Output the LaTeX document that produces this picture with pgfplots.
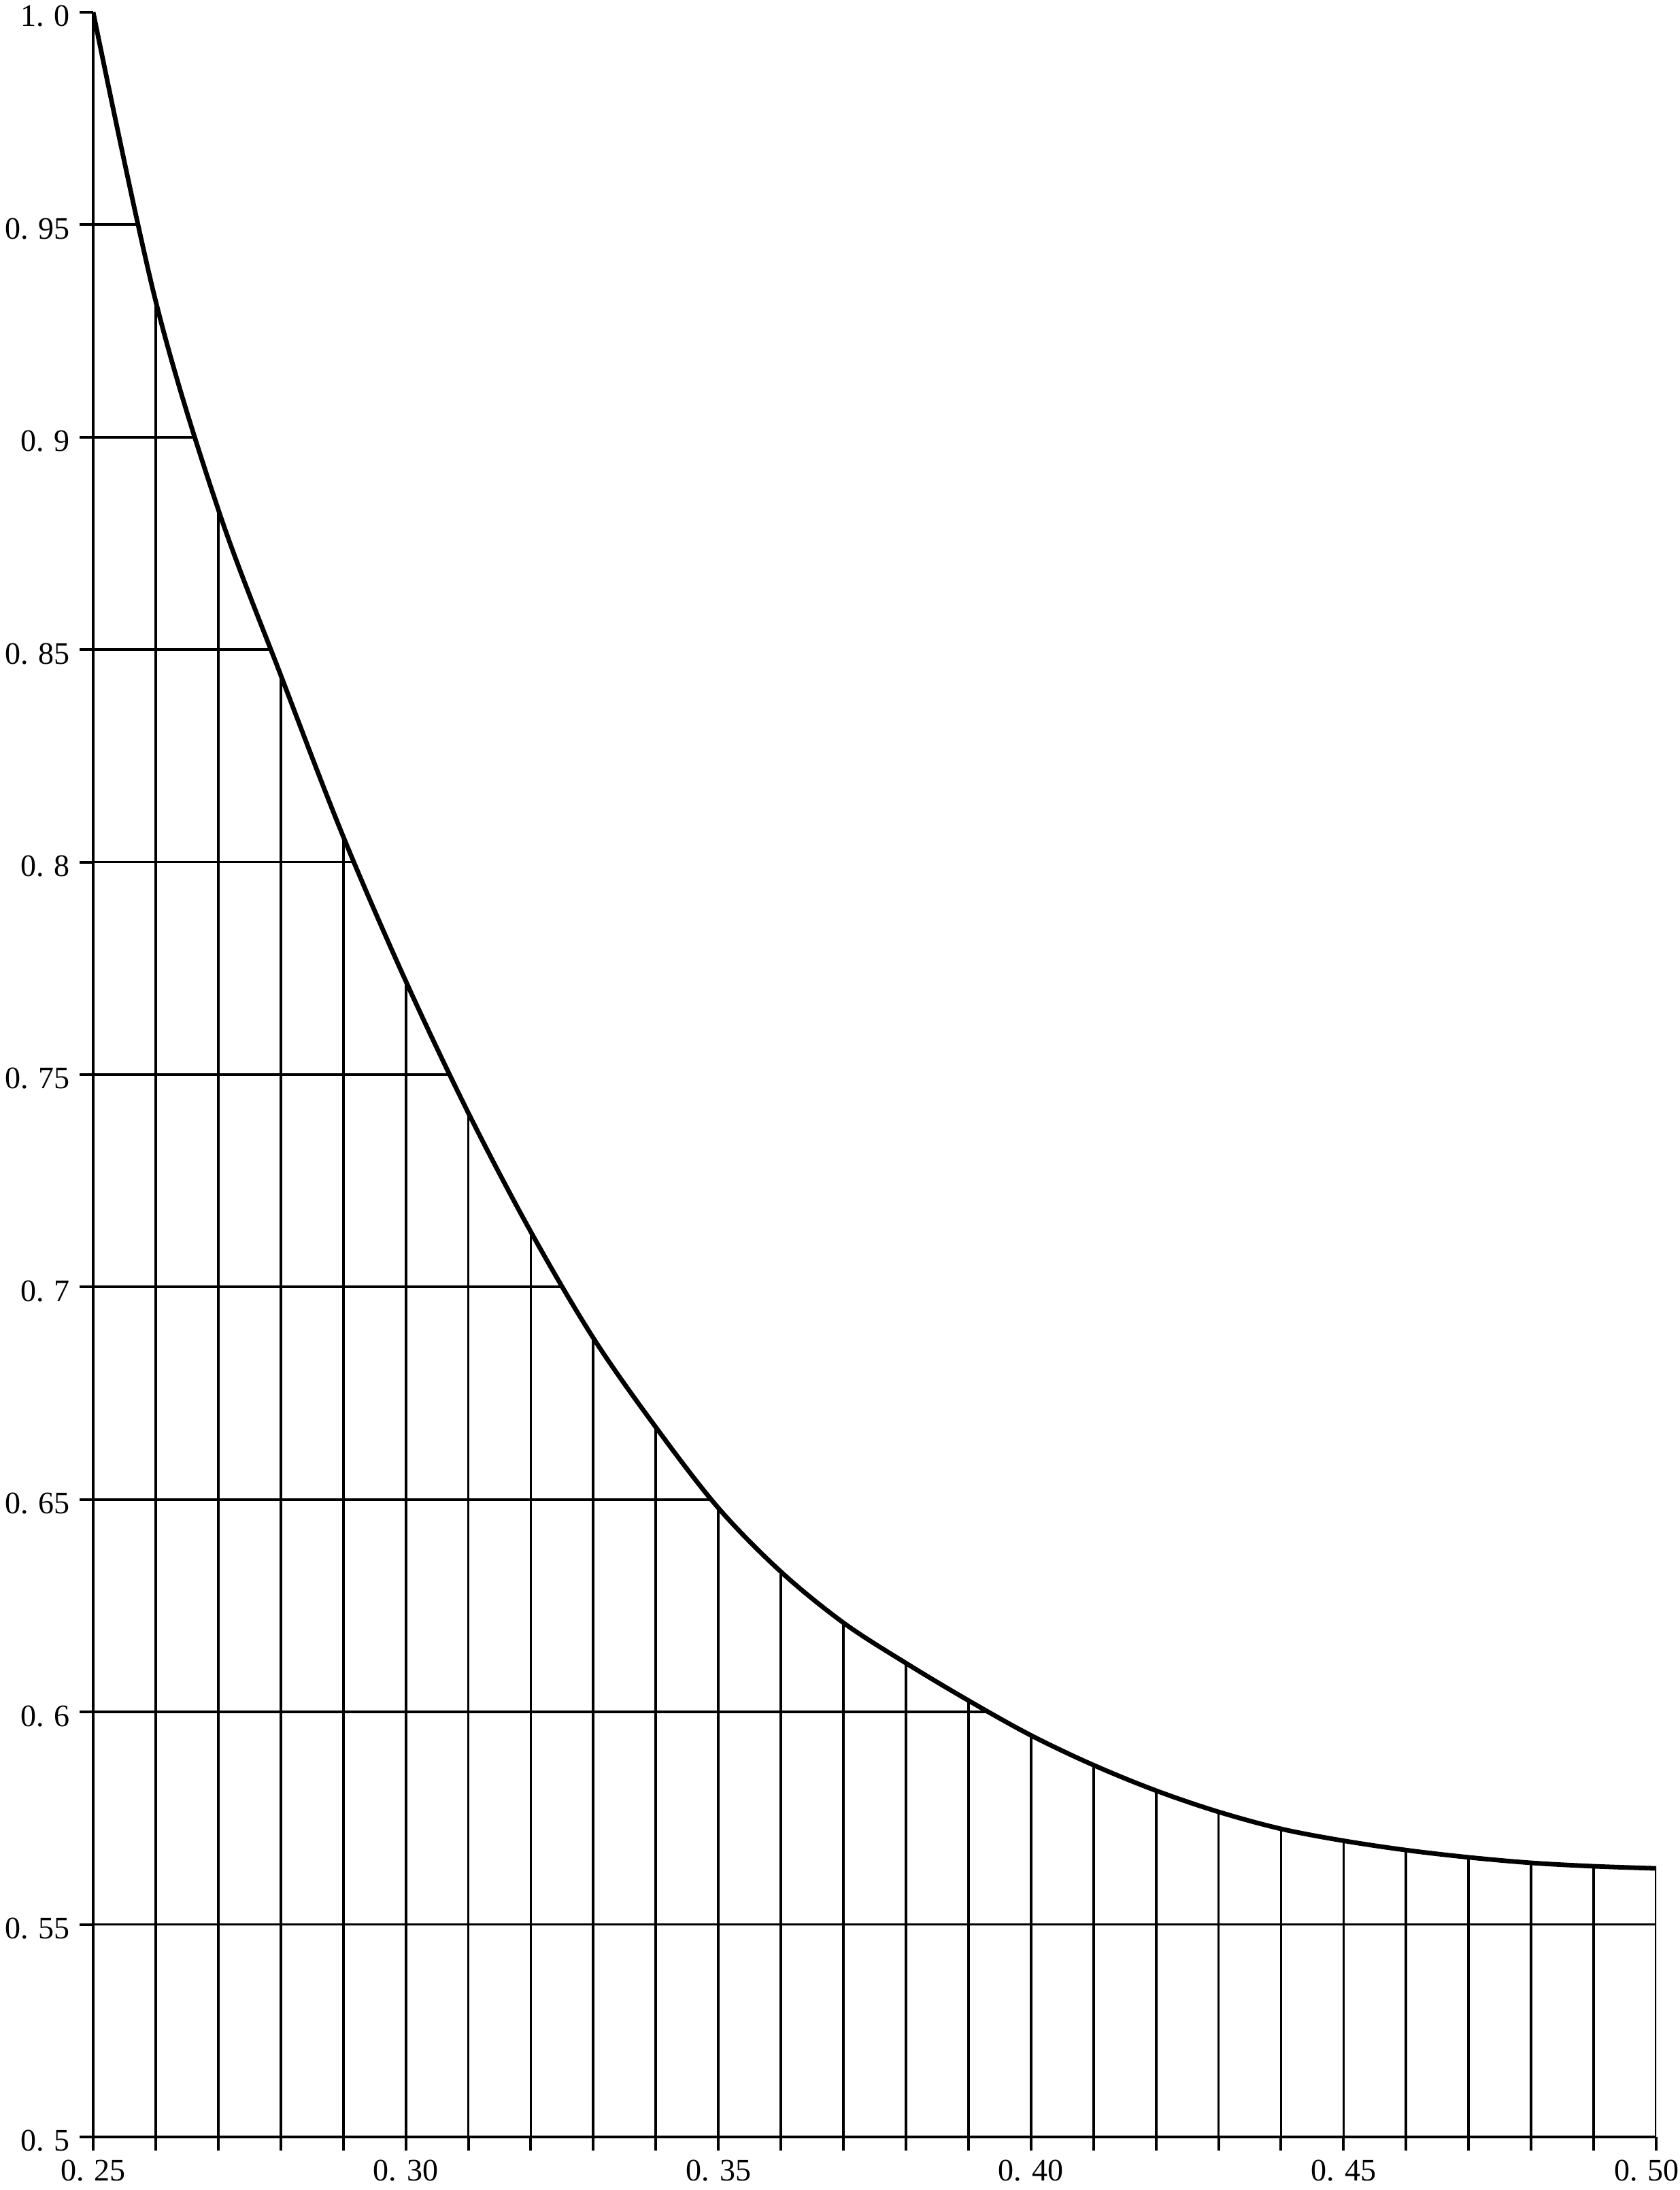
\documentclass[border=0pt]{standalone}
\usepackage{fontspec}
\setmainfont{Liberation Serif}
\usepackage{pgfplots}
\pgfplotsset{compat=1.18}
\begin{document}
\begin{tikzpicture}
\begin{axis}[
  scale only axis,
  width=574.5pt, height=781pt,
  xmin=0.25, xmax=0.50, ymin=0.5, ymax=1.0,
  axis lines=left,
  axis line style={-, line width=1.1pt},
  tick align=outside,
  xtick={0.25,0.30,0.35,0.40,0.45,0.50},
  xticklabels={\mbox{0. 25},\mbox{0. 30},\mbox{0. 35},\mbox{0. 40},\mbox{0. 45},\mbox{0. 50\hspace*{7pt}}},
  minor xtick={0.26,0.27,0.28,0.29,0.31,0.32,0.33,0.34,0.36,0.37,0.38,0.39,0.41,0.42,0.43,0.44,0.46,0.47,0.48,0.49},
  ytick={0.5,0.55,0.6,0.65,0.7,0.75,0.8,0.85,0.9,0.95,1.0},
  yticklabels={\mbox{0. 5},\mbox{0. 55},\mbox{0. 6},\mbox{0. 65},\mbox{0. 7},\mbox{0. 75},\mbox{0. 8},\mbox{0. 85},\mbox{0. 9},\mbox{0. 95},\mbox{1. 0}},
  x tick style={line width=1pt, black},
  y tick style={line width=1pt, black},
  major tick length=5pt,
  minor tick length=5pt,
  ticklabel style={font=\fontsize{11.5pt}{13pt}\selectfont},
  yticklabel style={yshift=-1.5pt},
  every axis plot/.append style={black},
]
\coordinate (O) at (rel axis cs:0,0);
\coordinate (T) at (rel axis cs:1,1);
% horizontal guide lines from the y axis to the curve
\addplot[xcomb, line width=0.95pt, mark=none] coordinates {
  (0.2572,0.95) (0.2664,0.90) (0.2783,0.85) (0.2918,0.80) (0.3071,0.75)
  (0.3253,0.70) (0.3487,0.65) (0.3930,0.60) (0.50,0.55)
};
% vertical guide lines from the x axis to the curve
\addplot[ycomb, line width=0.95pt, mark=none] coordinates {
  (0.26,0.932) (0.27,0.883) (0.28,0.844) (0.29,0.806) (0.30,0.772)
  (0.31,0.741) (0.32,0.713) (0.33,0.688) (0.34,0.667) (0.35,0.648)
  (0.36,0.633) (0.37,0.621) (0.38,0.6115) (0.39,0.6027) (0.40,0.5945)
  (0.41,0.5875) (0.42,0.5815) (0.43,0.5765) (0.44,0.5725) (0.45,0.5697)
  (0.46,0.5675) (0.47,0.5658) (0.48,0.5645) (0.49,0.5637) (0.50,0.5632)
};
% the curve
\addplot[smooth, tension=0.55, line width=1.7pt, mark=none] coordinates {
  (0.25,1.000) (0.26,0.932) (0.27,0.883) (0.28,0.844) (0.29,0.806) (0.30,0.772)
  (0.31,0.741) (0.32,0.713) (0.33,0.688) (0.34,0.667) (0.35,0.648)
  (0.36,0.633) (0.37,0.621) (0.38,0.6115) (0.39,0.6027) (0.40,0.5945)
  (0.41,0.5875) (0.42,0.5815) (0.43,0.5765) (0.44,0.5725) (0.45,0.5697)
  (0.46,0.5675) (0.47,0.5658) (0.48,0.5645) (0.49,0.5637) (0.50,0.5632)
};
\end{axis}
\pgfresetboundingbox
\path[use as bounding box] ([xshift=-34.25pt,yshift=-19.5pt]O) rectangle ([xshift=8.75pt,yshift=4.5pt]T);
\end{tikzpicture}
\end{document}
